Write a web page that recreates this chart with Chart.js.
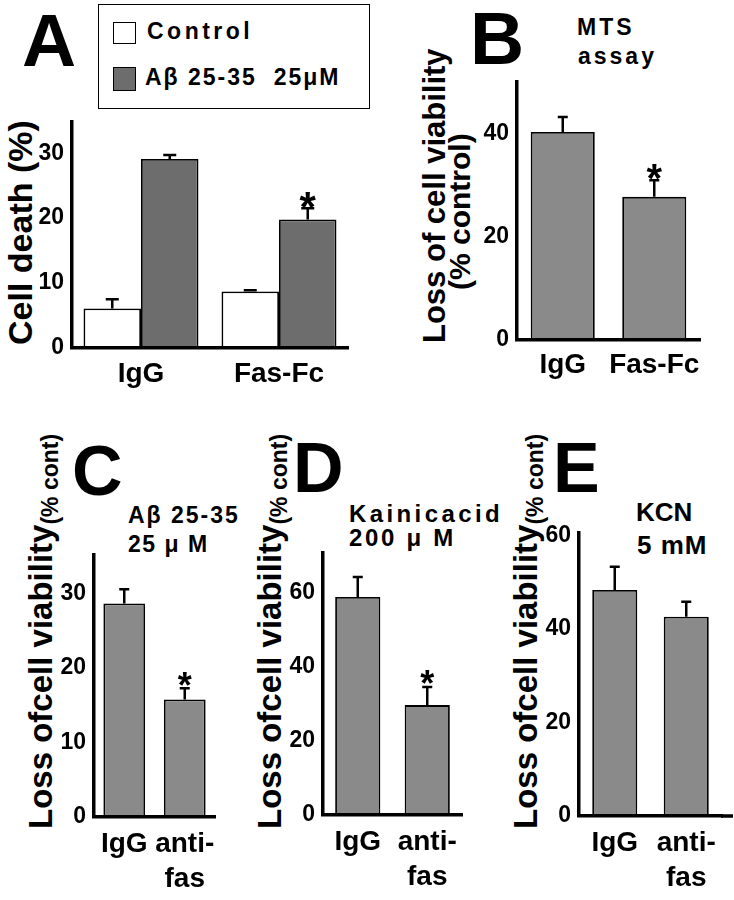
<!DOCTYPE html>
<html>
<head>
<meta charset="utf-8">
<script src="https://cdn.jsdelivr.net/npm/chart.js@4.4.1/dist/chart.umd.min.js"></script>
<style>
  body { margin: 0; background: #fff; }
  #wrap { position: relative; width: 734px; height: 900px; overflow: hidden; background: #fff;
          font-family: Arial, 'Liberation Sans', Helvetica, sans-serif; font-weight: bold; color: #000; }
  #wrap canvas { position: absolute; }
  .txt { position: absolute; white-space: pre; line-height: 1; }
  .big { position: absolute; line-height: 1; }
  .ytitle { position: absolute; white-space: pre; line-height: 1; transform-origin: 0 0;
            transform: rotate(-90deg) translateY(-50%); }
  .box { position: absolute; box-sizing: border-box; border: 1.5px solid #000; }
</style>
</head>
<body>
<div id="wrap">
  <!-- panel letters -->
  <div class="big" style="left:22px;top:3px;font-size:75px">A</div>
  <div class="big" style="left:470px;top:1px;font-size:75px">B</div>
  <div class="big" style="left:72px;top:436px;font-size:70px">C</div>
  <div class="big" style="left:293px;top:433px;font-size:70px">D</div>
  <div class="big" style="left:553px;top:433px;font-size:70px">E</div>

  <!-- legend of A -->
  <div class="box" style="left:98px;top:4px;width:272px;height:105px"></div>
  <div class="box" style="left:113px;top:22px;width:23px;height:22px;background:#fff"></div>
  <div class="box" style="left:113px;top:67px;width:23px;height:24px;background:#6d6d6d"></div>
  <div class="txt" style="left:147px;top:20px;font-size:23px;letter-spacing:3.5px">Control</div>
  <div class="txt" style="left:145px;top:66px;font-size:23px;letter-spacing:2px">Aβ 25-35  25μM</div>

  <!-- notes -->
  <div class="txt" style="left:577px;top:16px;font-size:23px;letter-spacing:3px">MTS</div>
  <div class="txt" style="left:578px;top:45px;font-size:23px;letter-spacing:3px">assay</div>
  <div class="txt" style="left:128px;top:504px;font-size:23px;letter-spacing:2px">Aβ 25-35</div>
  <div class="txt" style="left:128px;top:533px;font-size:23px;letter-spacing:1.5px">25 μ M</div>
  <div class="txt" style="left:349px;top:502px;font-size:24px;letter-spacing:3.4px">Kainicacid</div>
  <div class="txt" style="left:349px;top:526px;font-size:24px;letter-spacing:2.7px">200 μ M</div>
  <div class="txt" style="left:636px;top:499px;font-size:26px">KCN</div>
  <div class="txt" style="left:637px;top:532px;font-size:26px;letter-spacing:1px">5 mM</div>

  <!-- y axis titles -->
  <div class="ytitle" style="left:20px;top:345px;font-size:34px">Cell death (%)</div>
  <div class="ytitle" style="left:434px;top:343px;font-size:31px">Loss of cell viability</div>
  <div class="ytitle" style="left:460px;top:290px;font-size:30px">(% control)</div>
  <div class="ytitle" style="left:43px;top:829px;font-size:33px">Loss ofcell viability<span style="font-size:23px;vertical-align:-6px">(% cont)</span></div>
  <div class="ytitle" style="left:272px;top:829px;font-size:33px">Loss ofcell viability<span style="font-size:23px;vertical-align:-6px">(% cont)</span></div>
  <div class="ytitle" style="left:528px;top:829px;font-size:33px">Loss ofcell viability<span style="font-size:23px;vertical-align:-6px">(% cont)</span></div>

  <canvas id="chartA" width="360" height="278" style="left:0px;top:112px"></canvas>
  <canvas id="chartB" width="340" height="320" style="left:380px;top:70px"></canvas>
  <canvas id="chartC" width="240" height="488" style="left:0px;top:412px"></canvas>
  <canvas id="chartD" width="235" height="488" style="left:245px;top:412px"></canvas>
  <canvas id="chartE" width="244" height="488" style="left:490px;top:412px"></canvas>
</div>

<script>
// ---- data ----
// A: cell death (%)
const labelsA = ['IgG', 'Fas-Fc'];
const controlA = [6.1, 8.7];
const controlErrA = [1.4, 0.2];
const abetaA = [29.1, 19.8];
const abetaErrA = [0.6, 1.7];
const starsA = [false, true];
const ticksA = [0, 10, 20, 30];

// B: MTS assay
const labelsB = ['IgG', 'Fas-Fc'];
const valuesB = [40.4, 27.8];
const errB = [2.9, 3.2];
const starsB = [false, true];
const ticksB = [0, 20, 40];

// C: Abeta 25-35 25 uM
const labelsC = ['IgG', ['anti-', 'fas']];
const valuesC = [28.7, 15.8];
const errC = [1.9, 1.5];
const starsC = [false, true];
const ticksC = [0, 10, 20, 30];

// D: kainic acid 200 uM
const labelsD = ['IgG', ['anti-', 'fas']];
const valuesD = [58.9, 29.7];
const errD = [5.4, 4.9];
const starsD = [false, true];
const ticksD = [0, 20, 40, 60];

// E: KCN 5 mM
const labelsE = ['IgG', ['anti-', 'fas']];
const valuesE = [48.3, 42.6];
const errE = [5.0, 3.2];
const starsE = [false, false];
const ticksE = [0, 20, 40, 60];

Chart.defaults.font.family = "Arial, 'Liberation Sans', Helvetica, sans-serif";
Chart.defaults.color = '#000';

// error bars (upper half only) + asterisks
const errorBars = {
  id: 'errorBars',
  afterDatasetsDraw(chart, args, opts) {
    const ctx = chart.ctx;
    const y = chart.scales.y;
    const cap = opts.cap || 10;
    chart.data.datasets.forEach((ds, i) => {
      if (!ds.errors) return;
      chart.getDatasetMeta(i).data.forEach((bar, j) => {
        const top = y.getPixelForValue(ds.data[j] + ds.errors[j]);
        ctx.save();
        ctx.strokeStyle = '#000';
        ctx.lineWidth = 2.5;
        ctx.beginPath();
        ctx.moveTo(bar.x, bar.y);
        ctx.lineTo(bar.x, top);
        ctx.moveTo(bar.x - cap / 2, top);
        ctx.lineTo(bar.x + cap / 2, top);
        ctx.stroke();
        if (ds.stars && ds.stars[j]) {
          const fs = opts.star || 32;
          ctx.fillStyle = '#000';
          ctx.font = 'bold ' + fs + 'px Arial';
          ctx.textAlign = 'center';
          ctx.textBaseline = 'alphabetic';
          ctx.fillText('*', bar.x, top - 11 + 0.57 * fs);
        }
        ctx.restore();
      });
    });
    // some x axes run on past the last bar
    if (opts.extend) {
      const a = chart.chartArea;
      ctx.save();
      ctx.strokeStyle = '#000';
      ctx.lineWidth = 3.5;
      ctx.beginPath();
      ctx.moveTo(a.right - 1, a.bottom);
      ctx.lineTo(a.right + opts.extend, a.bottom);
      ctx.stroke();
      ctx.restore();
    }
  }
};

// one panel = one bar chart; box holds where the axes sit on the page
function makePanel(id, box, labels, datasets, yMax, yTicks, extra) {
  const config = {
    type: 'bar',
    data: { labels: labels, datasets: datasets },
    options: {
      responsive: false,
      animation: false,
      layout: {
        padding: { left: 0, bottom: 0, top: box.axisTop - box.top, right: box.left + box.width - box.axisRight }
      },
      plugins: {
        legend: { display: false },
        tooltip: { enabled: false },
        errorBars: extra
      },
      scales: {
        x: {
          grid: { display: false, drawTicks: false },
          border: { display: true, color: '#000', width: 3.5, z: 1 }, // axis line over the bar bottoms
          ticks: {
            color: '#000',
            font: { size: 28, weight: 'bold', lineHeight: 1.25 },
            padding: box.xPad,
            maxRotation: 0, minRotation: 0, autoSkip: false
          },
          afterFit(s) {
            s.height = box.top + box.height - box.baseY;
            s.paddingLeft = 0;
            s.paddingRight = 0;
          }
        },
        y: {
          min: 0,
          max: yMax,
          grid: { display: false, drawTicks: false },
          border: { display: true, color: '#000', width: 3.5, z: 1 },
          ticks: { color: '#000', font: { size: 23, weight: 'bold' }, padding: 8 },
          afterBuildTicks(s) { s.ticks = yTicks.map(v => ({ value: v })); },
          afterFit(s) {
            s.width = box.axisX - box.left;
            s.paddingTop = 0;
            s.paddingBottom = 0;
          }
        }
      }
    },
    plugins: [errorBars]
  };
  return new Chart(document.getElementById(id), config);
}

const grayBar = '#8a8a8a';

// A
const chartA = makePanel('chartA',
  { left: 0, top: 112, width: 360, height: 278, axisX: 72, axisTop: 122, baseY: 348, axisRight: 348, xPad: 9 },
  labelsA,
  [
    { label: 'Control', data: controlA, errors: controlErrA, stars: [false, false],
      backgroundColor: '#fff', borderColor: '#000', borderWidth: 1.8, categoryPercentage: 0.833, barPercentage: 1 },
    { label: 'Aβ 25-35 25μM', data: abetaA, errors: abetaErrA, stars: starsA,
      backgroundColor: '#6d6d6d', borderColor: '#000', borderWidth: 1.8, categoryPercentage: 0.833, barPercentage: 1 }
  ],
  34.8, ticksA, { cap: 13, star: 42 });

// B
const chartB = makePanel('chartB',
  { left: 380, top: 70, width: 340, height: 320, axisX: 517, axisTop: 82, baseY: 340, axisRight: 700, xPad: 8 },
  labelsB,
  [{ data: valuesB, errors: errB, stars: starsB, backgroundColor: grayBar, borderColor: '#000',
     borderWidth: 1.8, categoryPercentage: 1, barPercentage: 0.70 }],
  50.1, ticksB, { cap: 10, star: 40 });

// C
const chartC = makePanel('chartC',
  { left: 0, top: 412, width: 240, height: 488, axisX: 94, axisTop: 555, baseY: 817, axisRight: 215, xPad: 10 },
  labelsC,
  [{ data: valuesC, errors: errC, stars: starsC, backgroundColor: grayBar, borderColor: '#000',
     borderWidth: 1.8, categoryPercentage: 1, barPercentage: 0.69 }],
  35.2, ticksC, { cap: 10, star: 36 });

// D
const chartD = makePanel('chartD',
  { left: 245, top: 412, width: 235, height: 488, axisX: 323, axisTop: 553, baseY: 815, axisRight: 462, xPad: 10 },
  labelsD,
  [{ data: valuesD, errors: errD, stars: starsD, backgroundColor: grayBar, borderColor: '#000',
     borderWidth: 1.8, categoryPercentage: 1, barPercentage: 0.65 }],
  70.8, ticksD, { cap: 10, star: 36 });

// E
const chartE = makePanel('chartE',
  { left: 490, top: 412, width: 244, height: 488, axisX: 579, axisTop: 533, baseY: 816, axisRight: 722, xPad: 10 },
  labelsE,
  [{ data: valuesE, errors: errE, stars: starsE, backgroundColor: grayBar, borderColor: '#000',
     borderWidth: 1.8, categoryPercentage: 1, barPercentage: 0.63 }],
  60.5, ticksE, { cap: 10, star: 36, extend: 11 });
</script>
</body>
</html>
